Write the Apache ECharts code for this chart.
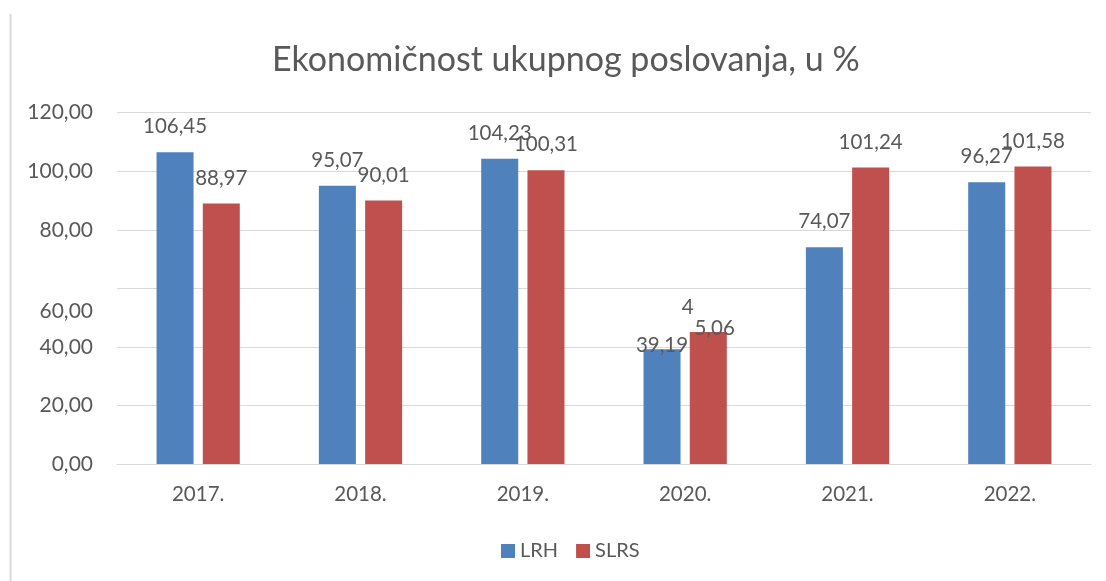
<!DOCTYPE html>
<html>
<head>
<meta charset="utf-8">
<script src="https://cdn.jsdelivr.net/npm/echarts@6/dist/echarts.min.js"></script>
<style>
  html, body { margin: 0; padding: 0; background: #fff; }
  #chart { width: 1106px; height: 581px; }
</style>
</head>
<body>
<div id="chart"></div>
<script>
const years = ['2017.', '2018.', '2019.', '2020.', '2021.', '2022.'];
const lrh = [106.45, 95.07, 104.23, 39.19, 74.07, 96.27];
const slrs = [88.97, 90.01, 100.31, 45.06, 101.24, 101.58];
const yTicks = [0, 20, 40, 60, 80, 100, 120];

const FONT = 'Lato';
const TXT = '#595959';

const fmt = (v) => v.toFixed(2).replace('.', ',');

// Excel pushed the 2020 labels down onto the bars
function barData(vals, series) {
  return vals.map((v, i) => {
    if (i !== 3) return v;
    const item = { value: v, label: { offset: [0, 22] } };
    if (series === 'slrs') {
      item.label.formatter = () => '{a|4}\n{b|5,06}';
    }
    return item;
  });
}

const labelBase = {
  show: true,
  position: 'top',
  distance: 15,
  color: TXT,
  fontFamily: FONT,
  fontSize: 20.5,
  formatter: (p) => fmt(p.value),
  rich: {
    a: { width: 53, align: 'left', color: TXT, fontFamily: FONT, fontSize: 20.5, lineHeight: 21 },
    b: { width: 53, align: 'right', color: TXT, fontFamily: FONT, fontSize: 20.5, lineHeight: 21 }
  }
};

const chart = echarts.init(document.getElementById('chart'), null, { renderer: 'canvas' });
chart.setOption({
  animation: false,
  backgroundColor: '#fff',
  title: {
    text: 'Ekonomičnost ukupnog poslovanja, u %',
    left: 267,
    top: 38,
    textStyle: { color: TXT, fontFamily: FONT, fontSize: 34, fontWeight: 'normal' }
  },
  graphic: [
    { type: 'rect', shape: { x: 9.5, y: 14, width: 2, height: 567 }, style: { fill: '#D9D9D9' }, silent: true }
  ],
  legend: {
    data: ['LRH', 'SLRS'],
    left: 501,
    top: 541,
    padding: 0,
    itemWidth: 14,
    itemHeight: 14,
    itemGap: 18,
    icon: 'rect',
    textStyle: { color: TXT, fontFamily: FONT, fontSize: 20 }
  },
  grid: { left: 117, right: 15, top: 112.7, bottom: 117, containLabel: false },
  xAxis: {
    type: 'category',
    data: years,
    axisLine: { lineStyle: { color: '#D9D9D9', width: 1 } },
    axisTick: { show: false },
    axisLabel: { color: TXT, fontFamily: FONT, fontSize: 20.5, margin: 20 }
  },
  yAxis: {
    type: 'value',
    min: 0,
    max: 120,
    interval: 20,
    axisLine: { show: false },
    axisTick: { show: false },
    splitLine: { lineStyle: { color: '#D9D9D9', width: 1 } },
    axisLabel: {
      color: TXT,
      fontFamily: FONT,
      fontSize: 21,
      margin: 24,
      formatter: (v) => (v === yTicks[3] ? '{low|' + fmt(v) + '}' : fmt(v)),
      rich: {
        low: { color: TXT, fontFamily: FONT, fontSize: 21, padding: [45, 0, 0, 0] }
      }
    }
  },
  series: [
    {
      name: 'LRH',
      type: 'bar',
      data: barData(lrh, 'lrh'),
      barWidth: 37,
      barGap: '25%',
      itemStyle: { color: '#4F81BD' },
      label: labelBase
    },
    {
      name: 'SLRS',
      type: 'bar',
      data: barData(slrs, 'slrs'),
      barWidth: 37,
      itemStyle: { color: '#C0504D' },
      label: labelBase
    }
  ]
});
</script>
</body>
</html>
